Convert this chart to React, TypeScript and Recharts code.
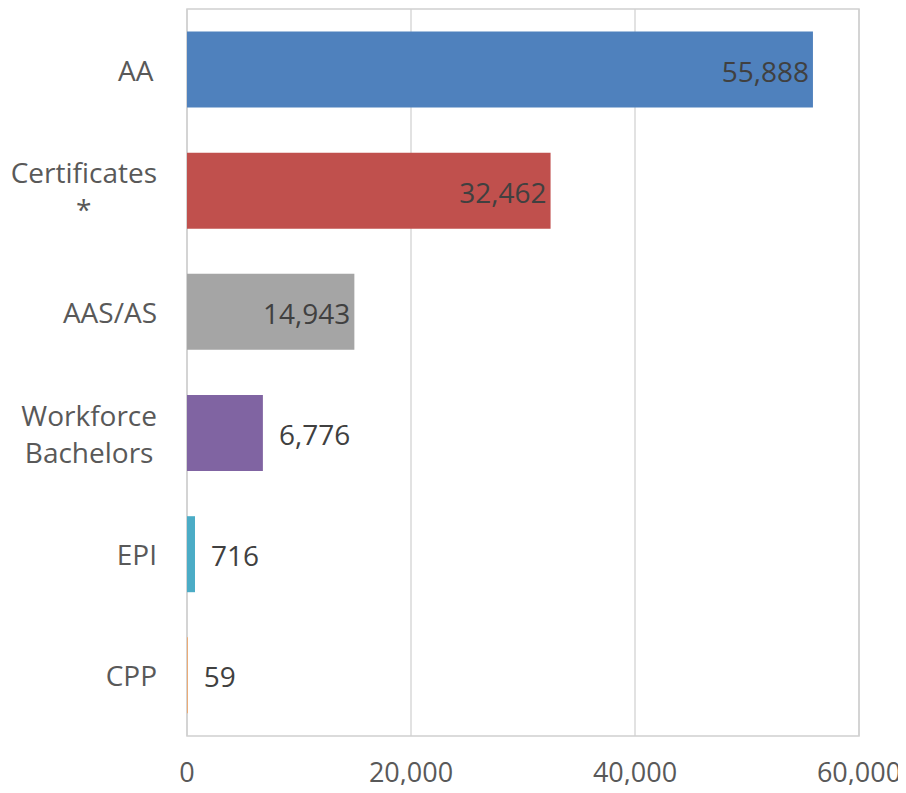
import React from "react";
import { BarChart, Bar, XAxis, YAxis, CartesianGrid, Cell, LabelList, ReferenceArea } from "recharts";

const categories = ["AA ", "Certificates\n*", "AAS/AS", "Workforce\nBachelors", "EPI", "CPP"];
const values = [55888, 32462, 14943, 6776, 716, 59];
const colors = ["#4f81bd", "#c0504d", "#a5a5a5", "#8064a2", "#4bacc6", "#f79646"];
const xTicks = [0, 20000, 40000, 60000];

const data = categories.map((name, i) => ({ name, value: values[i], color: colors[i] }));

const FONT = '"Open Sans", sans-serif';
const FS = 28;

let ctx: CanvasRenderingContext2D | null = null;
function measure(t: string): number {
  if (!ctx) {
    const c = document.createElement("canvas");
    ctx = c.getContext("2d");
  }
  if (!ctx) return t.length * FS * 0.55;
  ctx.font = `${FS}px "Open Sans"`;
  return ctx.measureText(t).width;
}

const YTick = (props: any) => {
  const { x, y, payload } = props;
  const lines: string[] = String(payload.value).split("\n");
  const maxW = Math.max(...lines.map(measure));
  const cx = x - maxW / 2;
  const lh = 37;
  const y0 = y - ((lines.length - 1) * lh) / 2;
  return (
    <g>
      {lines.map((l, i) => (
        <text
          key={i}
          x={cx}
          y={y0 + i * lh}
          textAnchor="middle"
          dominantBaseline="central"
          fill="#595959"
          fontFamily={FONT}
          fontSize={FS}
        >
          {l.trim()}
        </text>
      ))}
    </g>
  );
};

const ValueLabel = (props: any) => {
  const { x, y, width, height, value } = props;
  const txt = Number(value).toLocaleString("en-US");
  const inside = width > 100;
  const lx = inside ? x + width - 4 : x + width + 16;
  return (
    <text
      x={lx}
      y={y + height / 2 + 1}
      textAnchor={inside ? "end" : "start"}
      dominantBaseline="central"
      fill="#404040"
      fontFamily={FONT}
      fontSize={FS}
    >
      {txt}
    </text>
  );
};

export default function App() {
  return (
    <div style={{ width: 898, height: 777, overflow: "visible" }}>
      <style>{`.recharts-surface{overflow:visible}`}</style>
      <BarChart
        width={898}
        height={785}
        data={data}
        layout="vertical"
        margin={{ top: 1, right: 47, bottom: 0, left: 0 }}
        barCategoryGap="18.6%"
      >
        <CartesianGrid horizontal={false} vertical={true} stroke="#d9d9d9" strokeWidth={1.5} />
        <ReferenceArea x1={0} x2={60000} fill="none" stroke="#d0d0d0" strokeWidth={1.5} ifOverflow="visible" />
        <XAxis
          type="number"
          domain={[0, 60000]}
          ticks={xTicks}
          axisLine={false}
          tickLine={false}
          tickMargin={21}
          height={57}
          interval={0}
          tickFormatter={(v: number) => v.toLocaleString("en-US")}
          tick={{ fill: "#595959", fontFamily: FONT, fontSize: 27 }}
        />
        <YAxis
          type="category"
          dataKey="name"
          width={179}
          axisLine={false}
          tickLine={false}
          tickSize={0}
          tickMargin={30}
          interval={0}
          tick={<YTick />}
        />
        <Bar dataKey="value" isAnimationActive={false}>
          {data.map((d, i) => (
            <Cell key={i} fill={d.color} />
          ))}
          <LabelList dataKey="value" content={<ValueLabel />} />
        </Bar>
      </BarChart>
    </div>
  );
}
